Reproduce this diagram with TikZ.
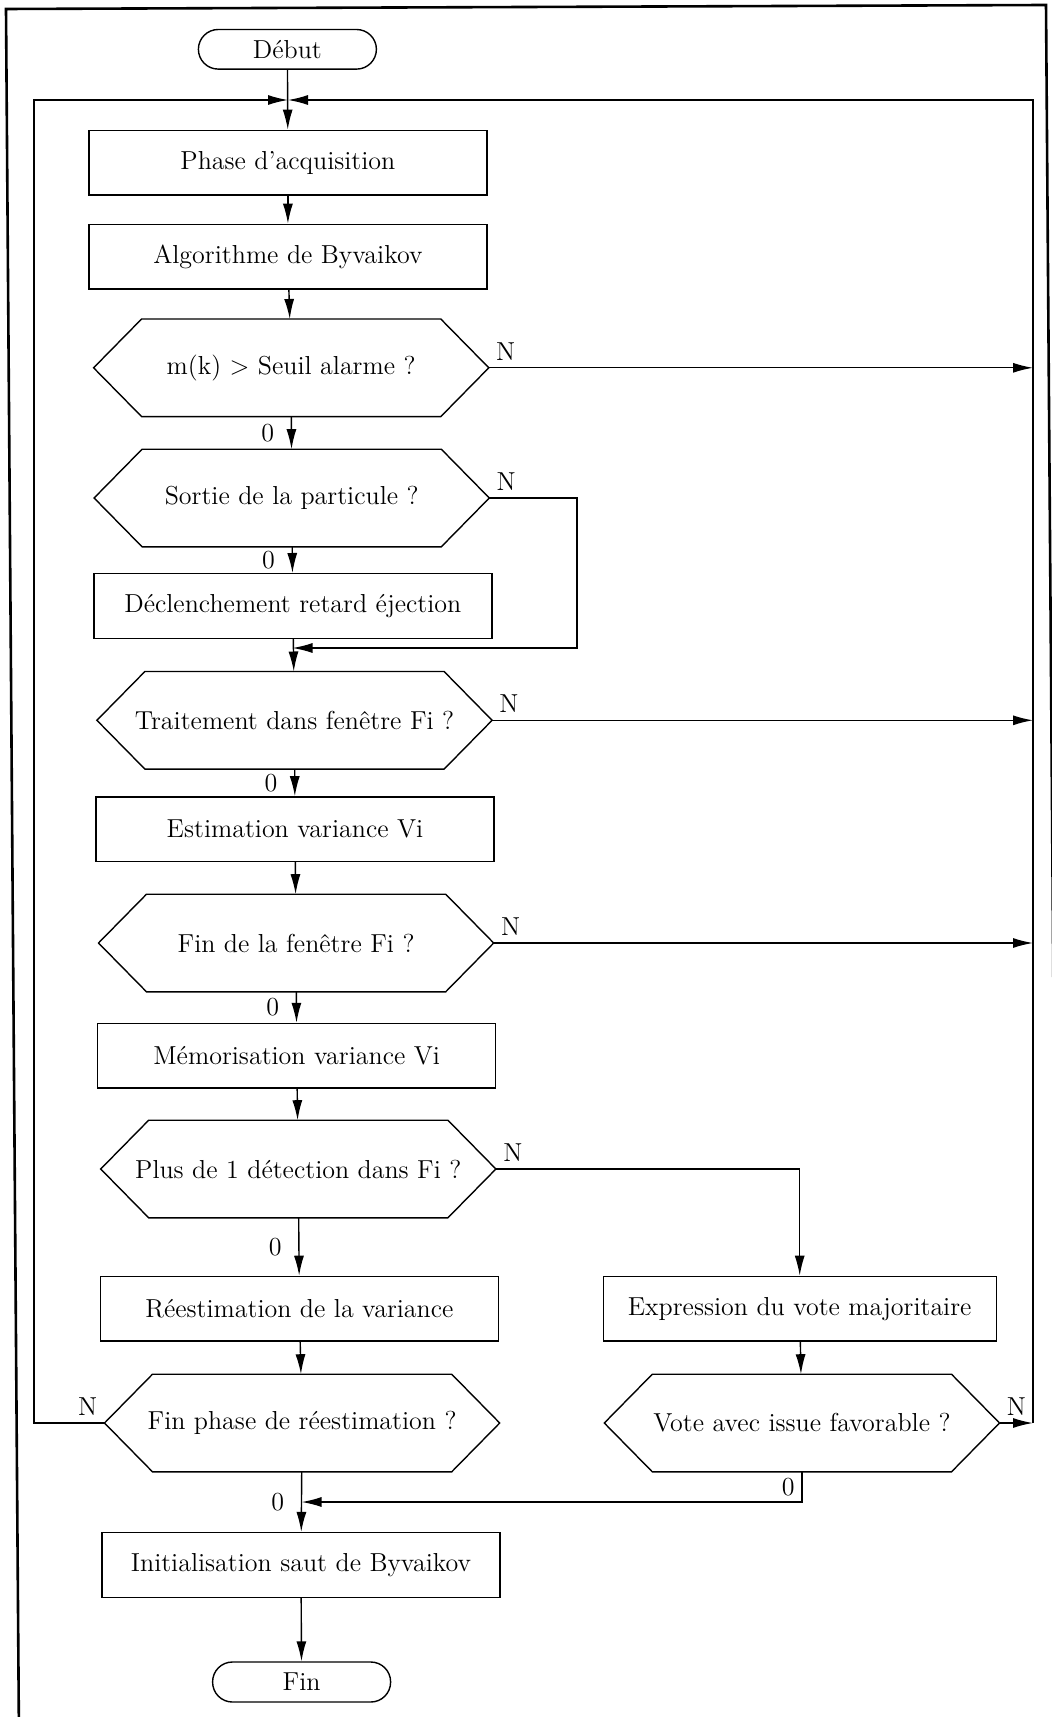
\documentclass[tikz,border=0pt]{standalone}
\usetikzlibrary{arrows.meta}

\begin{document}
\begin{tikzpicture}[x=0.5pt, y=-0.5pt, line width=0.7pt,
	font=\fontsize{13}{15}\selectfont,
	arrow/.style={-{Latex[length=10pt, width=5pt]}},
	boite/.style={draw, minimum width=199pt, minimum height=32.3pt, inner sep=2pt},
	test/.style={minimum width=197.6pt, minimum height=48.8pt, inner sep=1pt, outer sep=0pt},
	terminal/.style={draw, rounded corners=9.9pt, minimum width=89pt, minimum height=19.8pt}]
		\useasboundingbox (0,0) rectangle (1052,1717);
		\clip (0,0) rectangle (1052,1717);
		\draw[line width=1.3pt] (19,1740) -- (6,9) -- (1046,5) -- (1059,1740);
		\node[terminal] (debut) at (287.4,49.3) {Début};
		\node[boite] (phase) at (287.9,162.6) {Phase d'acquisition};
		\node[boite] (algo) at (287.9,256.7) {Algorithme de Byvaikov};
		\node[test] (mk) at (291.2,367.8) {m(k) > Seuil alarme ?};
		\node[test] (sortie) at (291.7,498) {Sortie de la particule ?};
		\node[boite] (declen) at (292.8,606) {Déclenchement retard éjection};
		\node[test] (trait) at (294.5,720.3) {Traitement dans fenêtre Fi ?};
		\node[boite] (estim) at (295,829.2) {Estimation variance Vi};
		\node[test] (finf) at (296.1,943) {Fin de la fenêtre Fi ?};
		\node[boite] (memo) at (296.7,1055.8) {Mémorisation variance Vi};
		\node[test] (plus) at (298.3,1169) {Plus de 1 détection dans Fi ?};
		\node[boite] (reest) at (299.4,1308.7) {Réestimation de la variance};
		\node[boite, minimum width=196.5pt] (expr) at (799.7,1308.7) {Expression du vote majoritaire};
		\node[test] (finph) at (302.1,1423) {Fin phase de réestimation ?};
		\node[test] (vote) at (801.9,1423) {Vote avec issue favorable ?};
		\node[boite] (init) at (301,1564.9) {Initialisation saut de Byvaikov};
		\node[terminal, minimum height=20pt] (fin) at (301.6,1682) {Fin};
		\foreach \n in {mk,sortie,trait,finf,plus,finph,vote}
			\draw (\n.west) -- ([xshift=24pt]\n.north west) -- ([xshift=-24pt]\n.north east) -- (\n.east) -- ([xshift=-24pt]\n.south east) -- ([xshift=24pt]\n.south west) -- cycle;
		\coordinate (top) at (288,100);
		\coordinate (lt) at (34,100);
		\coordinate (rt) at (1033,100);
		\coordinate (rb) at (1033,1423);
		\coordinate (d1) at (577,648);
		\coordinate (m1) at (292.5,648);
		\coordinate (m2) at (301.5,1502);
		\draw[arrow] (debut) -- (phase);
		\draw[arrow] (phase) -- (algo);
		\draw[arrow] (algo) -- (mk);
		\draw[arrow] (mk) -- node[left=5pt] {0} (sortie);
		\draw[arrow] (mk.east) node[above right] {N} -- (mk.east -| rt);
		\draw[arrow] (sortie) -- node[left=5pt] {0} (declen);
		\draw[arrow] (sortie.east) node[above right] {N} -| (d1) -- (m1);
		\draw[arrow] (declen) -- (trait);
		\draw[arrow] (trait) -- node[left=5pt] {0} (estim);
		\draw[arrow] (trait.east) node[above right] {N} -- (trait.east -| rt);
		\draw[arrow] (estim) -- (finf);
		\draw[arrow] (finf) -- node[left=5pt] {0} (memo);
		\draw[arrow] (finf.east) node[above right] {N} -- (finf.east -| rt);
		\draw[arrow] (memo) -- (plus);
		\draw[arrow] (plus) -- node[left=5pt] {0} (reest);
		\draw[arrow] (plus.east) node[above right] {N} -| (expr);
		\draw[arrow] (reest) -- (finph);
		\draw[arrow] (expr) -- (vote);
		\draw[arrow] (finph) -- node[left=5pt] {0} (init);
		\draw[arrow] (finph.west) node[above left] {N} -| (lt) -- (top);
		\draw[arrow] (vote.south) |- node[pos=0.25, left] {0} (m2);
		\draw[arrow] (vote.east) node[above right] {N} -- (rb);
		\draw[arrow] (rb) -- (rt) -- (top);
		\draw[arrow] (init) -- (fin);
\end{tikzpicture}
\end{document}
